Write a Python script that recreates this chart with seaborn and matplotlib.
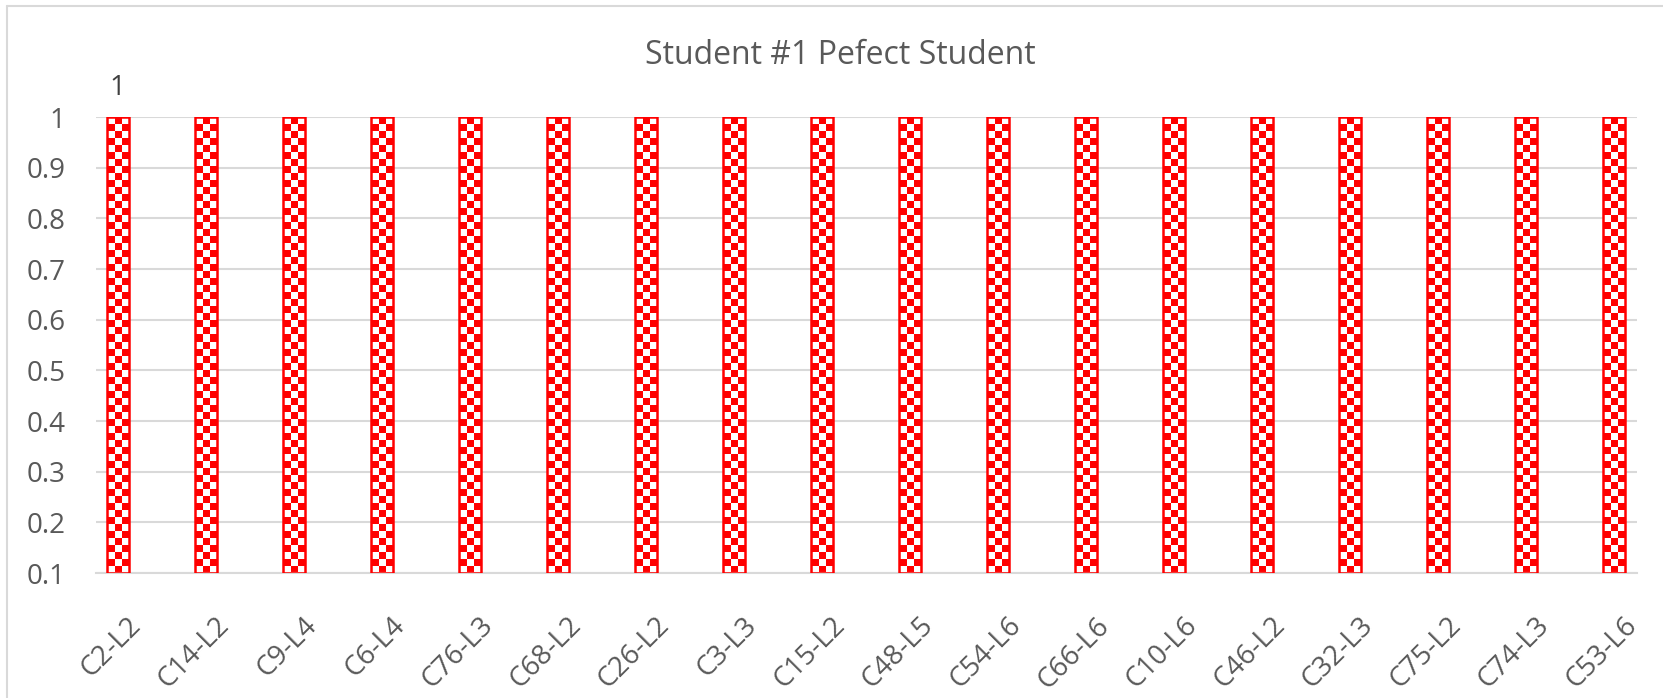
import numpy as np
import pandas as pd
import seaborn as sns
import matplotlib.pyplot as plt
import matplotlib.transforms as mtransforms
from matplotlib.colors import ListedColormap
from matplotlib.lines import Line2D

categories = ['C2-L2', 'C14-L2', 'C9-L4', 'C6-L4', 'C76-L3', 'C68-L2', 'C26-L2', 'C3-L3', 'C15-L2',
              'C48-L5', 'C54-L6', 'C66-L6', 'C10-L6', 'C46-L2', 'C32-L3', 'C75-L2', 'C74-L3', 'C53-L6']
scores = [1, 1, 1, 1, 1, 1, 1, 1, 1, 1, 1, 1, 1, 1, 1, 1, 1, 1]
y_ticks = [0.1, 0.2, 0.3, 0.4, 0.5, 0.6, 0.7, 0.8, 0.9, 1]
y_tick_labels = ['0.1', '0.2', '0.3', '0.4', '0.5', '0.6', '0.7', '0.8', '0.9', '1']

df = pd.DataFrame({'item': categories, 'score': scores})

sns.set_style('white')
plt.rcParams['font.family'] = ['Open Sans', 'DejaVu Sans']

fig = plt.figure(figsize=(16.63, 6.98), dpi=100)
ax = fig.add_axes([96 / 1663, 1 - 573 / 698, (1637 - 96) / 1663, (573 - 117) / 698])

base = 0.1
sns.barplot(data=df, x='item', y='score', ax=ax, width=0.25, color='white',
            bottom=base, errorbar=None)
# barplot adds the bottom to the height; keep tops at the value
for p in ax.patches:
    p.set_height(p.get_height() - base)

# checkerboard fill clipped to each bar
cmap = ListedColormap(['white', '#ff0000'])
px_per_y = 456 / 0.9
for p in ax.patches:
    x0, y0, w, h = p.get_x(), p.get_y(), p.get_width(), p.get_height()
    ncol = 3
    nrow = int(round(h * px_per_y / 7.0))
    grid = (np.add.outer(np.arange(nrow), np.arange(ncol)) % 2)
    im = ax.imshow(grid, cmap=cmap, extent=(x0, x0 + w, y0, y0 + h), aspect='auto',
                   interpolation='nearest', origin='lower', zorder=2.5, vmin=0, vmax=1)
    im.set_clip_path(p)
    p.set_facecolor('none')
    p.set_edgecolor('#ff0000')
    p.set_linewidth(1.8)
    p.set_zorder(3)

ax.set_aspect('auto')
ax.set_xlim(-0.248, 17.26)
ax.set_ylim(0.1, 1.0)

ax.set_yticks(y_ticks)
ax.set_yticklabels(y_tick_labels)
ax.yaxis.grid(True, color='#d9d9d9', linewidth=1.5)
ax.set_axisbelow(True)
for s in ['left', 'right', 'top']:
    ax.spines[s].set_visible(False)
ax.spines['bottom'].set_color('#d9d9d9')
ax.spines['bottom'].set_linewidth(1.5)

ax.tick_params(axis='y', length=0, pad=22, labelsize=20, labelcolor='#595959')
ax.tick_params(axis='x', length=0, pad=28, labelsize=20, labelcolor='#595959')
ax.set_xticks(range(len(categories)))
ax.set_xticklabels(categories, rotation=45, ha='right', va='top', rotation_mode='anchor')
shift = mtransforms.ScaledTranslation(9 / 100, 0, fig.dpi_scale_trans)
for lbl in ax.get_xticklabels():
    lbl.set_transform(lbl.get_transform() + shift)
ax.set_xlabel('')
ax.set_ylabel('')

# data label on the first bar only
ax.text(0, scores[0] + 0.03, str(scores[0]), ha='center', va='bottom', fontsize=20,
        color='#404040')

fig.text(840 / 1663, 1 - 56 / 698, 'Student #1 Pefect Student', ha='center', va='center',
         fontsize=23, color='#595959')

# chart border
fig.add_artist(Line2D([7 / 1663, 7 / 1663], [0, 1 - 6 / 698], color='#d9d9d9', lw=1.5))
fig.add_artist(Line2D([7 / 1663, 1], [1 - 6 / 698, 1 - 6 / 698], color='#d9d9d9', lw=1.5))

fig.savefig('out.png', dpi=100)
